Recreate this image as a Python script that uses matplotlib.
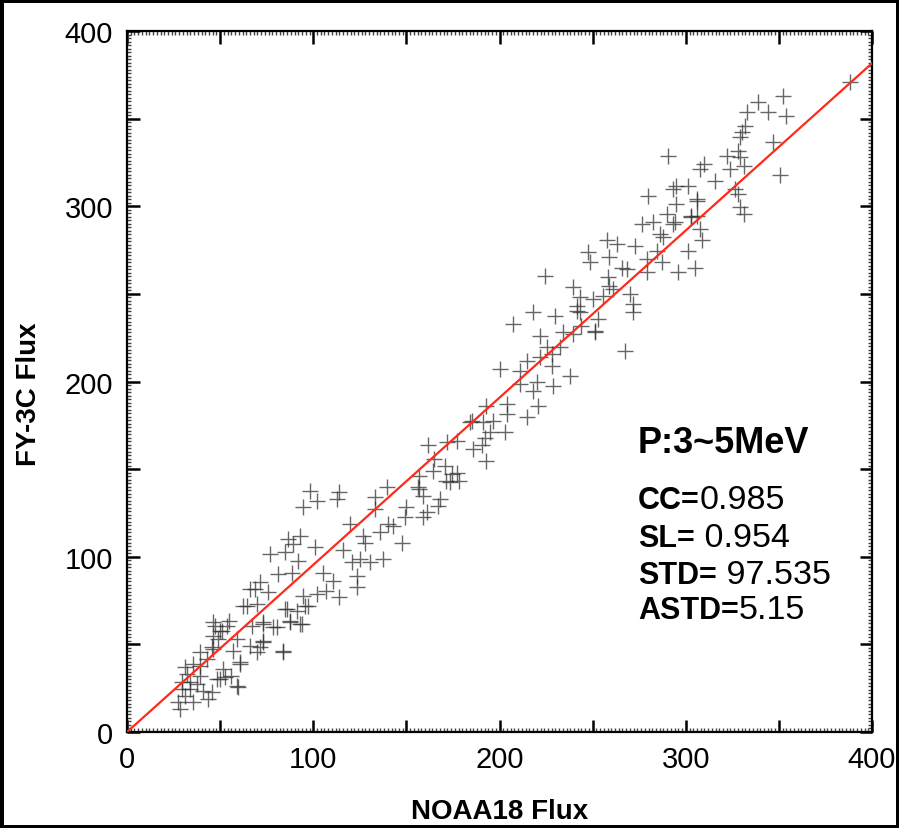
import matplotlib
matplotlib.use("Agg")
import matplotlib.pyplot as plt
from matplotlib.ticker import MultipleLocator, FuncFormatter

plt.rcParams['font.family'] = ['Liberation Sans', 'DejaVu Sans']

# ---------------------------------------------------------------
# data (NOAA18 flux vs FY-3C flux, P 3~5 MeV)
# ---------------------------------------------------------------
noaa18 = [
    28.5, 27.4, 31, 35.4, 29.5, 34, 41, 45.6, 50, 52.6, 59, 60.7, 56, 39, 35.4,
    43, 39, 46, 49, 46, 51, 46, 55, 59, 70, 71.4, 84, 73, 67, 73, 80.5, 87.5,
    94, 62, 70, 68.7, 66, 71.4, 75.7, 81, 88.6, 91, 85, 95.6, 76.8, 85, 89, 92,
    101, 94.5, 102, 107, 114, 110.6, 105, 116, 121, 123.5,
    37.6, 39, 51.5, 57, 66, 97.3, 32, 43.5,
    45.6, 47, 53.7, 48.3, 60.7, 59.6, 73, 78.4, 86, 93, 64.4, 34, 29.5, 31, 50,
    73, 84, 87.5,
    98, 102, 94.5, 114, 112.7, 86.6, 93, 125, 130.5, 137.5, 126.7, 127.8, 119.7,
    133, 133, 139.6, 136, 140, 143, 147.6, 150, 149, 159, 161, 168, 167, 157,
    159, 123.5,
    164.3, 174.5, 171, 172, 184,
    207, 218, 230, 241.6, 243, 250, 255.6, 253, 251, 244, 239.5, 234, 232.5,
    221.7, 225.5, 228, 221.7, 228, 214.8, 211, 200, 238, 228.7, 220, 218, 220.7,
    211, 204, 204, 214.8, 193, 196.5, 191, 185, 203, 195, 192, 190.6, 186, 193,
    177, 161.6, 165, 170.7, 177, 178, 173.5, 156, 157,
    305, 296, 279, 279, 287, 272.7, 263, 257.7, 247.5, 248.6, 259, 265.8, 268.5,
    224.4, 239.5, 258, 259, 261, 270, 271.7, 271.7, 267.4,
    306, 294, 303, 241.6, 251, 243,
    388, 339, 352, 354, 344, 333, 332, 330, 329, 347, 350.6, 290.5, 322, 328,
    329, 331, 324, 310, 307.6, 315.7, 301, 295, 293, 279.7, 306, 295, 326.4, 328,
    329, 331, 303, 306, 290, 293, 282.4, 276.5, 307.6, 308.7, 286, 287.8, 284.6,
    301,
]
fy3c = [
    13, 17, 20.5, 17, 24.5, 28.5, 23.4, 22.8, 30, 31.4, 26, 39, 32, 37.7, 38.8,
    41.7, 45.6, 47.4, 53, 54.8, 57.6, 62.8, 63.3, 53, 45.6, 48.5, 45.6, 51.4,
    60.5, 61.6, 60, 63.3, 61.6, 72, 73, 81.6, 81.6, 85.6, 80, 90, 91, 69, 70, 72,
    101.6, 102.7, 107, 97.6, 105.6, 77.6, 78.7, 80.5, 77, 86, 91, 104, 97, 83,
    27.4, 32, 36, 46, 49, 72, 33, 19,
    48.5, 60.5, 60.5, 30, 40, 25.7, 62.8, 60, 70, 61.6, 72, 24.5, 28.5, 37, 57.6,
    52, 46, 62.8,
    137.5, 132, 128.4, 137, 133, 110, 112, 98.7, 97, 98.7, 112, 108, 118.7,
    127, 134, 139.8, 114, 118.7, 117.5, 108, 128.4, 122.7, 122.7, 125.5, 133,
    129, 138.7, 134.7, 89,
    149, 147, 143, 165.5, 177,
    232.8, 239.6, 237.4, 243, 239.6, 247, 248.8, 235.7, 228.8, 231.7, 227, 228,
    219.7, 226, 219.7, 215.7, 214, 208.8, 211.7, 206, 207, 203, 197.4, 199.7,
    194.6, 186, 198.6, 187, 181.5, 180, 186, 177.5, 177, 177.5, 171, 171, 168,
    164, 161.5, 154.6, 166, 164, 155.8, 151.8, 148, 143, 142.7, 140, 146,
    265, 262.5, 270, 262.5, 268, 277.3, 278.5, 281, 274, 268, 271, 265, 264,
    260, 254, 259.6, 254.5, 252.8, 250, 244, 239.6, 217.4,
    303, 291, 294, 240, 228, 248,
    371, 359.5, 363, 351.5, 354, 353.8, 345.8, 342.4, 339.5, 336.6, 318, 328.7,
    328.7, 331.5, 328, 323, 321, 324, 321, 314.4, 311.6, 311.6, 310, 306, 304,
    301, 310, 307, 299.6, 295.6, 294.4, 294.4, 295.6, 290, 291, 290, 287, 281,
    284, 282.5, 274.5, 274.5,
]

# regression line end points (slope SL = 0.954)
fit_x = [0, 400]
fit_y = [0, 381.6]

title_text = "P:3~5MeV"
stats = [("CC=", "0.985"), ("SL=", " 0.954"), ("STD=", " 97.535"), ("ASTD=", "5.15")]

# ---------------------------------------------------------------
fig = plt.figure(figsize=(8.99, 8.29), dpi=100)
fig.patch.set_edgecolor('black')
fig.patch.set_linewidth(5)
ax = fig.add_axes([0.1413, 0.1158, 0.8287, 0.8456])

ax.scatter(noaa18, fy3c, marker='+', s=125, color='#333333', alpha=0.75,
           linewidths=1.0, zorder=2)
ax.plot(fit_x, fit_y, color='#ff2a1a', linewidth=1.6, zorder=3)

ax.set_xlim(0, 400)
ax.set_ylim(0, 400)

# ticks: long at 100, medium at 50, tiny every 2
for axis in (ax.xaxis, ax.yaxis):
    axis.set_major_locator(MultipleLocator(50))
    axis.set_minor_locator(MultipleLocator(2))
    axis.set_major_formatter(FuncFormatter(
        lambda v, p: f"{int(v)}" if int(v) % 100 == 0 else ""))
ax.tick_params(which='major', direction='in', length=9, width=1.8,
               top=True, right=True, labelsize=21)
ax.tick_params(which='minor', direction='in', length=3, width=1.0,
               top=True, right=True, color='#444444')
ax.tick_params(axis='x', which='major', pad=9)
ax.tick_params(axis='y', which='major', pad=10)
for axis in (ax.xaxis, ax.yaxis):
    for t in axis.get_major_ticks():
        if int(round(t.get_loc())) % 100 != 0:
            t.tick1line.set_markersize(5.5)
            t.tick2line.set_markersize(5.5)
for sp in ax.spines.values():
    sp.set_linewidth(1.6)

# axis labels
fig.text(29 / 899, 1 - 394 / 829, "FY-3C Flux", rotation=90, ha='center',
         va='center', fontsize=20, fontweight='bold')
fig.text(500 / 899, 1 - 812 / 829, "NOAA18 Flux", ha='center', va='center',
         fontsize=20, fontweight='bold')

# statistics text
ax.text(0.686, 0.4, title_text, transform=ax.transAxes, fontsize=26,
        fontweight='bold', va='baseline', ha='left')
base_y = [0.32, 0.265, 0.212, 0.162]
for (key, val), yy in zip(stats, base_y):
    t = ax.text(0.686, yy, key, transform=ax.transAxes, fontsize=22,
                fontweight='bold', va='baseline', ha='left')
    ax.annotate(val, xy=(1, 0), xycoords=t, fontsize=24.5, va='bottom',
                ha='left')

fig.savefig("out.png", dpi=100)
